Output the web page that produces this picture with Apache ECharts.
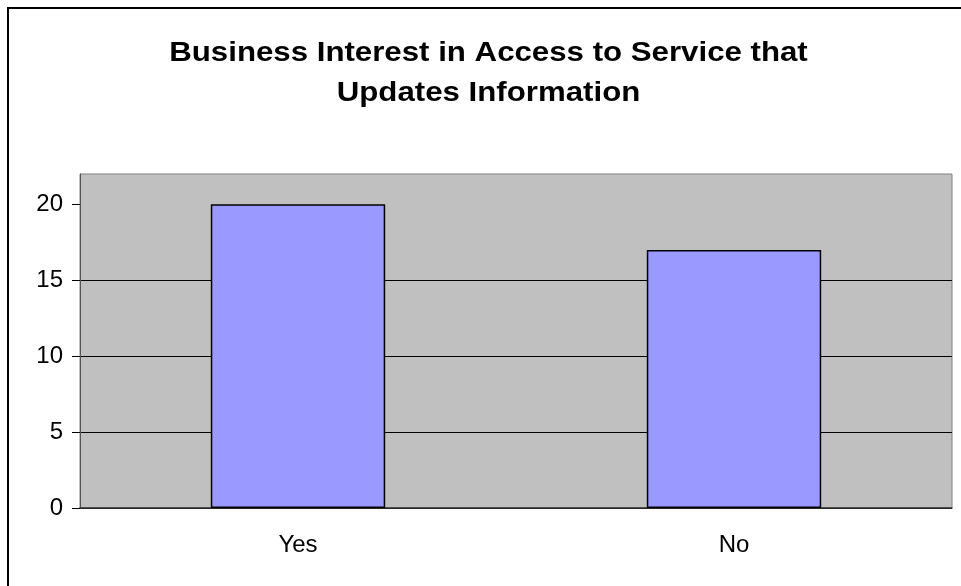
<!DOCTYPE html>
<html>
<head>
<meta charset="utf-8">
<script src="https://cdn.jsdelivr.net/npm/echarts@6/dist/echarts.min.js"></script>
<style>
  html, body { margin: 0; padding: 0; background: #fff; }
  #chart { width: 961px; height: 586px; }
</style>
</head>
<body>
<div id="chart"></div>
<script>
// Survey answers and counts
const categories = ['Yes', 'No'];
const responses = [20, 17];
const yTicks = [0, 5, 10, 15, 20];
const titleLines = ['Business Interest in Access to Service that', 'Updates Information'];

const chart = echarts.init(document.getElementById('chart'), null, { renderer: 'canvas' });
const font = '"Liberation Sans", Arial, sans-serif';

chart.setOption({
  animation: false,
  backgroundColor: '#ffffff',
  grid: {
    left: 80, right: 9, top: 174, bottom: 78,
    show: true,
    backgroundColor: '#c0c0c0',
    borderColor: '#808080',
    borderWidth: 1
  },
  xAxis: {
    type: 'category',
    data: categories,
    axisLine: { lineStyle: { color: '#333', width: 1.5 } },
    axisTick: { length: 8, lineStyle: { color: '#000' } },
    axisLabel: { fontFamily: font, fontSize: 24, color: '#000', margin: 25 }
  },
  yAxis: {
    type: 'value',
    min: 0,
    max: 22,
    interval: 5,
    axisLine: { show: true, lineStyle: { color: '#555' } },
    axisTick: { show: true, length: 8, lineStyle: { color: '#000' }, customValues: yTicks },
    axisLabel: { fontFamily: font, fontSize: 24, color: '#000', margin: 17, customValues: yTicks },
    splitLine: { show: true, showMaxLine: false, lineStyle: { color: '#000', width: 1 } }
  },
  series: [{
    type: 'bar',
    data: responses,
    barWidth: '40%',
    itemStyle: { color: '#9999ff', borderColor: '#000', borderWidth: 1.5 }
  }],
  graphic: [
    // chart title, two centred lines, slightly widened
    {
      type: 'text', x: 488.5, y: 33, scaleX: 1.115,
      style: {
        text: titleLines.join('\n'),
        align: 'center', verticalAlign: 'top',
        fontFamily: font, fontSize: 28, fontWeight: 'bold',
        lineHeight: 40, fill: '#000'
      }
    },
    // frame edges
    { type: 'line', shape: { x1: 8, y1: 7, x2: 8, y2: 586 }, style: { stroke: '#000', lineWidth: 2 } },
    { type: 'line', shape: { x1: 7, y1: 8, x2: 961, y2: 8 }, style: { stroke: '#000', lineWidth: 2 } }
  ]
});
</script>
</body>
</html>
